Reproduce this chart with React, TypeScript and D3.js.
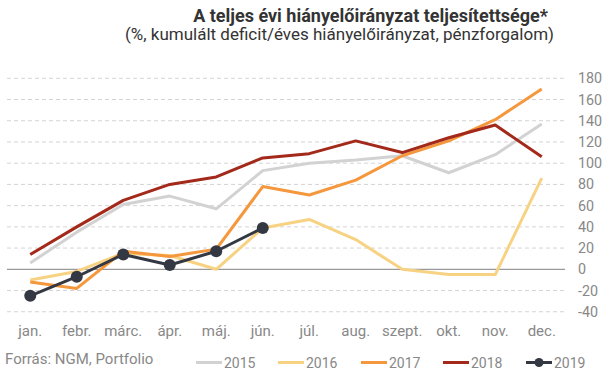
import React from "react";
import * as d3 from "d3";

const months = ["jan.", "febr.", "márc.", "ápr.", "máj.", "jún.", "júl.", "aug.", "szept.", "okt.", "nov.", "dec."];
const yTicks = [-40, -20, 0, 20, 40, 60, 80, 100, 120, 140, 160, 180];

const s2015 = [6, 35, 61, 69, 57, 93, 100, 103, 107, 91, 108, 137];
const s2016 = [-10, -2, 15, 13, 0, 39, 47, 28, 0, -5, -5, 86];
const s2017 = [-12, -18, 17, 12, 19, 78, 70, 84, 107, 121, 141, 170];
const s2018 = [14, 40, 65, 80, 87, 105, 109, 121, 110, 124, 136, 106];
const s2019 = [-25, -7, 14, 4, 17, 39];

const seriesNames = ["2015", "2016", "2017", "2018", "2019"];
const seriesData = [s2015, s2016, s2017, s2018, s2019];
const colors = ["#d2d2d2", "#f7d283", "#f5973c", "#a3291a", "#343842"];

const W = 605;
const H = 378;

export default function App() {
  const x = d3.scaleBand<string>().domain(months).range([7, 565]);
  const y = d3.scaleLinear().domain([0, 180]).range([269.3, 78.3]);
  const cx = (i: number) => (x(months[i]) as number) + x.bandwidth() / 2;
  const line = d3
    .line<number>()
    .x((_, i) => cx(i))
    .y((d) => y(d));

  const legendX = [196, 278, 361, 443, 526];

  return (
    <svg
      width={W}
      height={H}
      style={{ position: "absolute", left: 0, top: 0, fontFamily: "Roboto, sans-serif" }}
    >
      <rect width={W} height={H} fill="#fff" />
      <text x={548} y={22} textAnchor="end" fontSize={18} fontWeight="bold" fill="#333">
        A teljes évi hiányelőirányzat teljesítettsége*
      </text>
      <text x={554} y={40} textAnchor="end" fontSize={17} fill="#333">
        (%, kumulált deficit/éves hiányelőirányzat, pénzforgalom)
      </text>
      {yTicks.map((t) => (
        <g key={t}>
          {t !== 0 && (
            <line
              x1={7}
              x2={565}
              y1={y(t)}
              y2={y(t)}
              stroke="#d4d4d4"
              strokeWidth={1}
              strokeDasharray="4,3"
            />
          )}
          <text x={578} y={y(t) + 5} fontSize={14.3} fill="#888">
            {t}
          </text>
        </g>
      ))}
      <line x1={7} x2={565} y1={y(0)} y2={y(0)} stroke="#808080" strokeWidth={1} />
      {months.map((m, i) => (
        <text key={m} x={cx(i)} y={336} textAnchor="middle" fontSize={15} fill="#888">
          {m}
        </text>
      ))}
      {seriesData.map((s, k) => (
        <path key={k} d={line(s) || ""} fill="none" stroke={colors[k]} strokeWidth={3} strokeLinejoin="round" />
      ))}
      {s2019.map((v, i) => (
        <circle key={i} cx={cx(i)} cy={y(v)} r={6} fill={colors[4]} />
      ))}
      <text x={5} y={364} fontSize={15} fill="#888">
        Forrás: NGM, Portfolio
      </text>
      {seriesNames.map((n, k) => (
        <g key={n}>
          <line x1={legendX[k]} x2={legendX[k] + 26} y1={362.5} y2={362.5} stroke={colors[k]} strokeWidth={3} />
          {k === 4 && <circle cx={legendX[k] + 13} cy={362.5} r={4.5} fill={colors[k]} />}
          <text x={legendX[k] + 28} y={367.5} fontSize={14} fill="#888">
            {n}
          </text>
        </g>
      ))}
    </svg>
  );
}
